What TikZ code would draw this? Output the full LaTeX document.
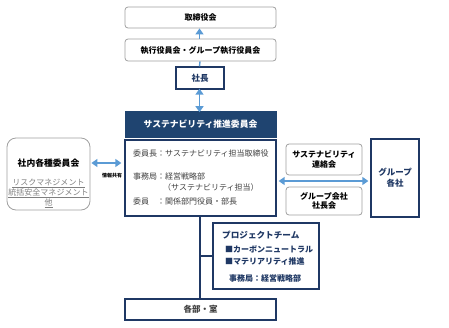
\documentclass[tikz,border=0pt]{standalone}
\usepackage{fontspec}
\setmainfont{Noto Sans CJK JP}
\usetikzlibrary{arrows.meta,calc}
\definecolor{dblue}{HTML}{1F3864}
\definecolor{hblue}{HTML}{1F4470}
\definecolor{lblue}{HTML}{5B9BD5}
\definecolor{gborder}{HTML}{A0A0A0}
\definecolor{dgray}{HTML}{404040}
\definecolor{ugray}{HTML}{7F7F7F}
\tikzset{
  graybox/.style={draw=gborder, line width=0.8pt, rounded corners=3pt, fill=white, inner sep=0pt, align=center, font=\fontsize{8}{9.5}\selectfont\bfseries},
  bluebox/.style={draw=dblue, line width=1.3pt, fill=white, inner sep=0pt, align=center},
  txt/.style={inner sep=0pt, anchor=west, font=\fontsize{8}{9}\selectfont, text=dgray},
  ptxt/.style={inner sep=0pt, anchor=west, font=\fontsize{8}{9}\selectfont\bfseries, text=dblue},
  larrow/.style={draw=lblue, line width=1.4pt},
  tip/.tip={Triangle[length=6pt,width=8pt]},
}
\begin{document}
\begin{tikzpicture}[x=1pt,y=-1pt]
\useasboundingbox (0,0) rectangle (449,327);
% top boxes
\node[graybox, minimum width=151pt, minimum height=21pt] (tori) at (200.5,17.5) {取締役会};
\node[graybox, minimum width=151pt, minimum height=22pt] (shikko) at (200.5,50) {執行役員会・グループ執行役員会};
\node[bluebox, minimum width=48pt, minimum height=22pt, font=\fontsize{8.5}{10}\selectfont\bfseries, text=dblue] (shacho) at (200,78) {社長};
% committee
\node[draw=hblue, fill=hblue, line width=0.8pt, inner sep=0pt, minimum width=151pt, minimum height=25.5pt, text=white, font=\fontsize{8.8}{10}\selectfont\bfseries] (header) at (200.5,124.3) {サステナビリティ推進委員会};
\node[bluebox, minimum width=151pt, minimum height=76pt] (content) at (200.5,178) {};
\node[txt] (c1) at (133,153) {委員長：サステナビリティ担当取締役};
\node[txt] (c2) at (133,176) {事務局：経営戦略部};
\node[txt] (c3) at (163,187) {（サステナビリティ担当）};
\node[txt] (c4) at (133,201) {委員　：関係部門役員・部長};
% left
\node[draw=gborder, line width=0.8pt, rounded corners=9pt, minimum width=83pt, minimum height=72pt, inner sep=0pt] (shanai) at (48.5,174) {};
\node[inner sep=0pt, font=\fontsize{8.8}{10}\selectfont\bfseries] (st) at (48.5,163) {社内各種委員会};
\node[inner sep=0pt, font=\fontsize{8}{9}\selectfont, text=ugray] (s1) at (48.5,183) {\underline{リスクマネジメント}};
\node[inner sep=0pt, font=\fontsize{8}{9}\selectfont, text=ugray] (s2) at (48.5,193.5) {\underline{統括安全マネジメント}};
\node[inner sep=0pt, font=\fontsize{8}{9}\selectfont, text=ugray] (s3) at (48.5,203) {\underline{他}};
\node[inner sep=0pt, font=\fontsize{5}{6}\selectfont\bfseries] (info) at (112,175.5) {情報共有};
% right
\node[graybox, minimum width=76pt, minimum height=31pt] (renraku) at (324,159.5) {サステナビリティ\\連絡会};
\node[graybox, minimum width=76pt, minimum height=28pt] (shachokai) at (324,201) {グループ会社\\社長会};
\node[bluebox, minimum width=48pt, minimum height=78pt, font=\fontsize{8.5}{11}\selectfont\bfseries, text=dblue] (group) at (395,178) {グループ\\各社};
% project
\node[bluebox, minimum width=106pt, minimum height=66pt] (project) at (266,256) {};
\node[ptxt, font=\fontsize{8.6}{10}\selectfont\bfseries] (p1) at (222,235) {プロジェクトチーム};
\node[ptxt] (p2) at (225,249) {■カーボンニュートラル};
\node[ptxt] (p3) at (225,261) {■マテリアリティ推進};
\node[ptxt] (p4) at (229,278) {事務局：経営戦略部};
% bottom
\node[bluebox, minimum width=151pt, minimum height=21pt, font=\fontsize{8.5}{10}\selectfont\bfseries, text=dgray] (kakubu) at (200.5,309.5) {各部・室};
% connectors
\draw[larrow] ([xshift=-0.5pt]shacho.north) -- ([xshift=-0.5pt]shikko.south);
\draw[larrow, -{tip}] ([xshift=-1pt]shikko.north) -- ([xshift=-1pt]tori.south);
\draw[larrow, {tip}-{tip}] ([xshift=-0.5pt,yshift=1pt]shacho.south) -- ([xshift=-1pt,yshift=-1pt]header.north);
\coordinate (iy) at (0,163);
\draw[larrow, {tip}-{tip}, shorten <=1pt, shorten >=3pt] (shanai.east |- iy) -- (content.west |- iy);
\coordinate (gy) at (0,181);
\draw[larrow, {tip}-{tip}, shorten <=2pt, shorten >=2pt] (content.east |- gy) -- (group.west |- gy);
\draw[draw=dblue, line width=1.3pt] ([xshift=-0.5pt]content.south) -- ([xshift=-0.5pt]kakubu.north);
\coordinate (py) at (0,256);
\draw[draw=dblue, line width=1.3pt] ($(content.south |- py)+(-0.5,0)$) -- (project.west |- py);
\end{tikzpicture}
\end{document}
